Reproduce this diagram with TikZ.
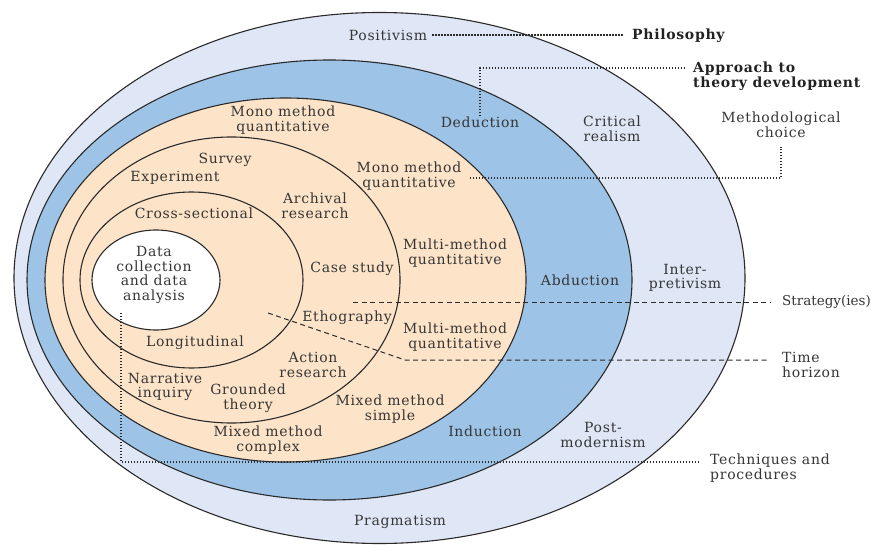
\documentclass[tikz,border=0pt]{standalone}
\usepackage{fontspec}
\setmainfont{DejaVu Serif}[LetterSpace=5]
\definecolor{outerc}{HTML}{DFE6F5}
\definecolor{bluec}{HTML}{9DC3E6}
\definecolor{peachc}{HTML}{FDE4C8}
\definecolor{linec}{HTML}{2A2A2A}
\definecolor{txtc}{HTML}{363636}
\definecolor{boldc}{HTML}{222222}
\begin{document}
\begin{tikzpicture}[x=1pt,y=-1pt,
  tx/.style={font=\fontsize{14}{14.5}\selectfont, text=txtc, inner sep=1pt, align=center},
  bt/.style={font=\fontsize{14}{14.5}\selectfont\bfseries, text=boldc, inner sep=1pt, align=left},
  lt/.style={tx, align=left},
  ring/.style={draw=linec, line width=1.1pt},
  dotl/.style={draw=linec, line width=1.3pt, dash pattern=on 1.3pt off 1.7pt},
  dashl/.style={draw=linec, line width=1pt, dash pattern=on 5pt off 3.5pt}]
\useasboundingbox (0,0) rectangle (874,545);
\fill[white] (0,0) rectangle (874,545);
% rings
\filldraw[ring, fill=outerc] (379.5,278) ellipse [x radius=365.5pt, y radius=265.5pt];
\filldraw[ring, fill=bluec] (329.5,280) ellipse [x radius=302.5pt, y radius=220pt];
\filldraw[ring, fill=peachc] (285.5,280) ellipse [x radius=240.5pt, y radius=182pt];
\draw[ring] (231.5,280) ellipse [x radius=168.5pt, y radius=143pt];
\draw[ring] (191.5,280) ellipse [x radius=111.5pt, y radius=88pt];
\filldraw[ring, fill=white] (156,280) ellipse [x radius=64pt, y radius=50pt];
% labels inside
\node[tx] (positivism) at (388,35) {Positivism};
\node[tx] (deduction) at (480,122) {Deduction};
\node[tx] (critical) at (612,129) {Critical\\realism};
\node[tx] (mono1) at (283,120) {Mono method\\quantitative};
\node[tx] (mono2) at (409,176) {Mono method\\quantitative};
\node[tx] (survey) at (225,160) {Survey};
\node[tx] (experiment) at (175,178) {Experiment};
\node[tx] (archival) at (315,206) {Archival\\research};
\node[tx] (cross) at (194,213) {Cross-sectional};
\node[tx] (data) at (154,275) {Data\\collection\\and data\\analysis};
\node[tx] (casestudy) at (352,269) {Case study};
\node[tx] (multi1) at (455,253) {Multi-method\\quantitative};
\node[tx] (abduction) at (580,280) {Abduction};
\node[tx] (inter) at (685,278) {Inter-\\pretivism};
\node[tx] (etho) at (347,318) {Ethography};
\node[tx] (multi2) at (455,337) {Multi-method\\quantitative};
\node[tx] (longi) at (195,343) {Longitudinal};
\node[tx] (action) at (313,365) {Action\\research};
\node[tx] (narrative) at (165,387) {Narrative\\inquiry};
\node[tx] (grounded) at (248,398) {Grounded\\theory};
\node[tx] (mixsimple) at (390,409) {Mixed method\\simple};
\node[tx] (mixcomplex) at (268,440) {Mixed method\\complex};
\node[tx] (induction) at (485,431) {Induction};
\node[tx] (postmod) at (603,435) {Post-\\modernism};
\node[tx] (pragmatism) at (400,522) {Pragmatism};
% outside labels
\node[bt, anchor=west] (philosophy) at (631,36) {Philosophy};
\node[bt, anchor=north west] (approach) at (692,61) {Approach to\\theory development};
\node[tx] (methchoice) at (781,125) {Methodological\\choice};
\node[lt, anchor=west, font=\fontsize{13.5}{14.5}\selectfont\addfontfeature{LetterSpace=0}] (strategy) at (781,302) {Strategy(ies)};
\node[lt, anchor=west] (timeh) at (781,365) {Time\\horizon};
\node[lt, anchor=west] (tech) at (709,468) {Techniques and\\procedures};
% connectors
\draw[dotl, shorten <=4pt, shorten >=8pt] (positivism.east) -- (positivism.east -| philosophy.west);
\coordinate (apend) at (686,68);
\draw[dotl] ([yshift=-1pt]deduction.north) |- (apend);
\coordinate (mcstart) at (470,178);
\draw[dotl, shorten >=8pt] (mcstart) -| (methchoice.south);
\coordinate (ststart) at (353,302);
\draw[dashl, shorten >=11pt] (ststart) -- (ststart -| strategy.west);
\coordinate (tstart) at (268,313);
\coordinate (tbend) at (405,360);
\draw[dashl, shorten >=11pt] (tstart) -- (tbend) -- (tbend -| timeh.west);
\coordinate (tqstart) at (121,313);
\coordinate (tqcorner) at (121,462);
\draw[dotl, shorten >=9pt] (tqstart) -- (tqcorner) -- (tqcorner -| tech.west);
\end{tikzpicture}
\end{document}
